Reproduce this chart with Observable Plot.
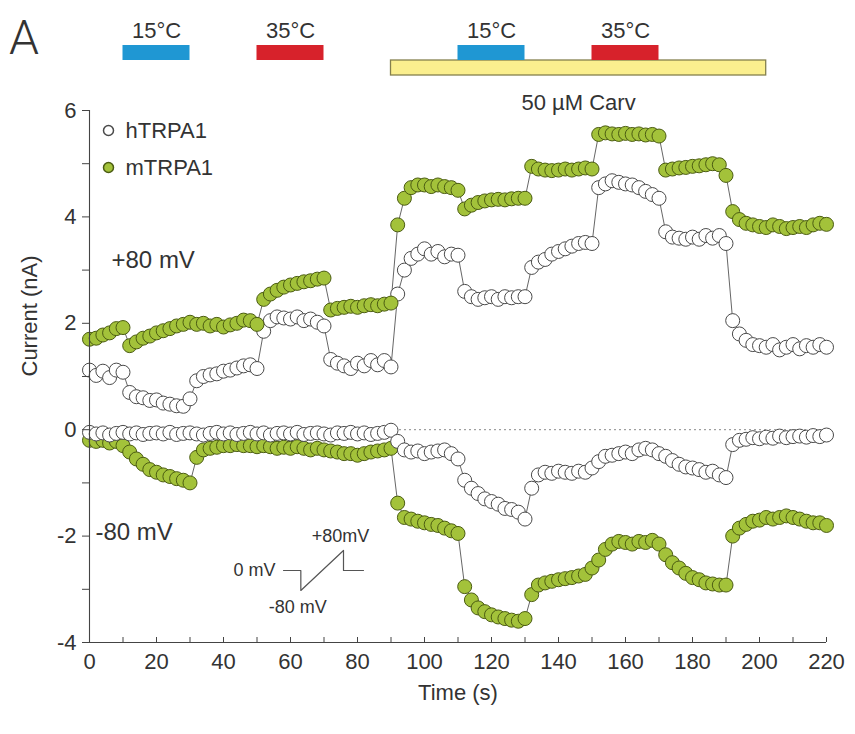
<!DOCTYPE html>
<html><head><meta charset="utf-8">
<script src="https://cdn.jsdelivr.net/npm/d3@7"></script>
<script src="https://cdn.jsdelivr.net/npm/@observablehq/plot@0.6"></script>
<style>
body{margin:0;background:#fff;}
#wrap{position:relative;width:855px;height:734px;overflow:hidden;font-family:"Liberation Sans",Arial,sans-serif;color:#333}
#wrap svg{overflow:visible;display:block}
#inset{position:absolute;left:283px;top:550px}
#panel{position:absolute;left:9px;top:14px;font-family:Roboto,"Liberation Sans",sans-serif;font-weight:300;font-size:48px;line-height:48px;color:#333}
</style></head><body>
<div id="wrap"><div id="stim"></div><div id="main"></div><div id="inset"></div><div id="panel">A</div></div>
<script>
// ---- data ----
const time = [0,2,4,6,8,10,12,14,16,18,20,22,24,26,28,30,32,34,36,38,40,42,44,46,48,50,52,54,56,58,60,62,64,66,68,70,72,74,76,78,80,82,84,86,88,90,92,94,96,98,100,102,104,106,108,110,112,114,116,118,120,122,124,126,128,130,132,134,136,138,140,142,144,146,148,150,152,154,156,158,160,162,164,166,168,170,172,174,176,178,180,182,184,186,188,190,192,194,196,198,200,202,204,206,208,210,212,214,216,218,220];

const hTRPA1_plus80 = [
 1.12,1.02,1.1,0.98,1.12,1.08,0.7,0.62,0.6,0.55,
 0.56,0.5,0.48,0.45,0.44,0.58,0.92,1.0,1.03,1.05,
 1.1,1.12,1.16,1.2,1.22,1.15,1.85,2.05,2.12,2.1,
 2.08,2.12,2.05,2.08,2.02,1.95,1.32,1.25,1.2,1.15,
 1.25,1.2,1.3,1.22,1.3,1.18,2.55,3.0,3.22,3.3,
 3.4,3.3,3.35,3.25,3.3,3.28,2.6,2.5,2.45,2.48,
 2.5,2.45,2.5,2.48,2.5,2.5,3.05,3.15,3.2,3.3,
 3.35,3.4,3.45,3.5,3.52,3.5,4.55,4.62,4.68,4.65,
 4.62,4.6,4.55,4.48,4.42,4.35,3.72,3.62,3.6,3.58,
 3.62,3.58,3.65,3.6,3.65,3.5,2.05,1.8,1.68,1.6,
 1.58,1.55,1.6,1.5,1.55,1.6,1.52,1.58,1.55,1.6,
 1.55];

const mTRPA1_plus80 = [
 1.7,1.72,1.78,1.82,1.9,1.92,1.58,1.65,1.72,1.76,
 1.82,1.86,1.9,1.95,1.98,2.02,1.98,2.0,1.95,1.98,
 1.93,1.97,2.0,2.06,2.05,1.98,2.45,2.55,2.62,2.68,
 2.72,2.75,2.78,2.8,2.83,2.85,2.25,2.28,2.3,2.32,
 2.3,2.33,2.35,2.33,2.36,2.38,3.85,4.35,4.55,4.6,
 4.6,4.57,4.6,4.57,4.55,4.5,4.15,4.22,4.27,4.3,
 4.32,4.33,4.32,4.34,4.35,4.35,4.95,4.9,4.88,4.87,
 4.88,4.9,4.88,4.9,4.92,4.9,5.55,5.58,5.56,5.55,
 5.57,5.55,5.56,5.54,5.55,5.52,4.88,4.9,4.92,4.93,
 4.95,4.96,4.98,5.0,4.98,4.78,4.1,3.95,3.88,3.85,
 3.82,3.8,3.85,3.82,3.78,3.8,3.82,3.8,3.85,3.88,
 3.86];

const hTRPA1_minus80 = [
 -0.05,-0.08,-0.06,-0.1,-0.07,-0.05,-0.08,-0.06,-0.09,-0.07,
 -0.06,-0.08,-0.05,-0.09,-0.07,-0.06,-0.08,-0.1,-0.07,-0.05,
 -0.08,-0.06,-0.09,-0.07,-0.05,-0.08,-0.06,-0.1,-0.07,-0.06,
 -0.08,-0.05,-0.09,-0.07,-0.06,-0.08,-0.1,-0.06,-0.07,-0.05,
 -0.08,-0.06,-0.09,-0.07,-0.05,-0.01,-0.22,-0.38,-0.42,-0.4,
 -0.45,-0.42,-0.4,-0.38,-0.45,-0.55,-0.95,-1.1,-1.2,-1.3,
 -1.35,-1.4,-1.48,-1.5,-1.55,-1.68,-1.1,-0.85,-0.8,-0.82,
 -0.78,-0.8,-0.82,-0.78,-0.8,-0.72,-0.6,-0.5,-0.48,-0.45,
 -0.42,-0.45,-0.38,-0.35,-0.38,-0.45,-0.5,-0.58,-0.65,-0.7,
 -0.72,-0.75,-0.8,-0.78,-0.85,-0.9,-0.28,-0.2,-0.18,-0.15,
 -0.17,-0.14,-0.16,-0.12,-0.15,-0.13,-0.12,-0.14,-0.11,-0.13,
 -0.1];

const mTRPA1_minus80 = [
 -0.2,-0.22,-0.2,-0.25,-0.22,-0.3,-0.42,-0.55,-0.65,-0.75,
 -0.8,-0.85,-0.88,-0.92,-0.95,-1.0,-0.52,-0.38,-0.35,-0.33,
 -0.3,-0.3,-0.28,-0.3,-0.3,-0.32,-0.3,-0.32,-0.35,-0.33,
 -0.35,-0.32,-0.35,-0.38,-0.35,-0.38,-0.4,-0.42,-0.45,-0.45,
 -0.48,-0.45,-0.42,-0.4,-0.38,-0.35,-1.38,-1.65,-1.68,-1.72,
 -1.75,-1.78,-1.8,-1.85,-1.9,-1.95,-2.95,-3.2,-3.35,-3.42,
 -3.48,-3.52,-3.55,-3.58,-3.6,-3.55,-3.1,-2.92,-2.88,-2.85,
 -2.82,-2.8,-2.78,-2.75,-2.72,-2.6,-2.45,-2.25,-2.15,-2.1,
 -2.12,-2.15,-2.1,-2.12,-2.08,-2.15,-2.35,-2.5,-2.6,-2.7,
 -2.78,-2.82,-2.88,-2.9,-2.92,-2.92,-2.0,-1.85,-1.78,-1.72,
 -1.7,-1.65,-1.68,-1.65,-1.62,-1.65,-1.68,-1.72,-1.75,-1.75,
 -1.8];

// stimulus protocol
const tempLabels = ["15°C","35°C","15°C","35°C"];
const tempKinds  = ["cold","hot","cold","hot"];
const tempStart  = [10, 50, 110, 150];
const tempEnd    = [30, 70, 130, 170];
const drugLabel  = "50 µM Carv";
const drugStart  = 90;
const drugEnd    = 202;

// axes
const xTicks = [0,20,40,60,80,100,120,140,160,180,200,220];
const xMinorTicks = [0,10,20,30,40,50,60,70,80,90,100,110,120,130,140,150,160,170,180,190,200,210,220];
const yTicks = [-4,-3,-2,-1,0,1,2,3,4,5,6];
const legendLabels = ["hTRPA1","mTRPA1"];

// voltage-ramp protocol schematic (arbitrary time units, mV)
const protoT = [0, 1.3, 1.3, 4.5, 4.5, 6];
const protoV = [0, 0, -80, 80, 0, 0];

// ---- build tables ----
const rows = (vals, series) => time.map((t, i) => ({t, v: vals[i], series}));
const traces = [
  rows(hTRPA1_plus80, "hTRPA1"),
  rows(mTRPA1_plus80, "mTRPA1"),
  rows(mTRPA1_minus80, "mTRPA1"),
  rows(hTRPA1_minus80, "hTRPA1")
];
const temps = tempLabels.map((label, i) => ({label, kind: tempKinds[i], start: tempStart[i], end: tempEnd[i]}));
const drug = [{label: drugLabel, start: drugStart, end: drugEnd}];
const proto = protoT.map((t, i) => ({t, v: protoV[i]}));

const FONT = "Liberation Sans, Arial, Helvetica, sans-serif";
const TXT = "#333";
const colTemp = {cold: "#1f97d3", hot: "#d7222b"};
const FS = 22;

// ---- stimulus bars ----
const stim = Plot.plot({
  width: 855, height: 110,
  marginLeft: 89, marginRight: 29, marginTop: 45, marginBottom: 35,
  x: {domain: [0, 220], axis: null},
  style: {fontFamily: FONT, fontSize: FS + "px", color: TXT, background: "transparent", overflow: "visible"},
  marks: [
    Plot.rect(drug, {x1: "start", x2: "end", insetTop: 15, fill: "#fbef8e", stroke: "#85804e", strokeWidth: 1.3}),
    Plot.rect(temps, {x1: "start", x2: "end", insetBottom: 15, fill: d => colTemp[d.kind]}),
    Plot.text(temps, {x: d => (d.start + d.end) / 2, text: "label", frameAnchor: "top", lineAnchor: "middle", dy: -15, fill: TXT}),
    Plot.text(drug, {x: d => (d.start + d.end) / 2, text: "label", frameAnchor: "bottom", lineAnchor: "middle", dy: 27, fill: TXT})
  ]
});
document.getElementById("stim").append(stim);

// ---- main chart ----
const all = traces.flat();
const main = Plot.plot({
  width: 855, height: 624,
  marginLeft: 89, marginRight: 29, marginTop: 0, marginBottom: 92,
  x: {domain: [0, 220]},
  y: {domain: [-4, 6]},
  style: {fontFamily: FONT, fontSize: FS + "px", color: TXT, background: "transparent", overflow: "visible"},
  marks: [
    Plot.ruleY([0], {stroke: "#888", strokeDasharray: "2,3", strokeWidth: 1}),
    ...traces.map(tr => Plot.line(tr, {x: "t", y: "v", stroke: "#555", strokeWidth: 0.9})),
    Plot.dot(all, {x: "t", y: "v", r: 7,
      fill: d => d.series === "hTRPA1" ? "#ffffff" : "#a3c23a",
      stroke: d => d.series === "hTRPA1" ? "#4a4a4a" : "#4b5c12", strokeWidth: 1}),
    // axes
    Plot.ruleX([0], {stroke: "#444", strokeWidth: 1.1}),
    Plot.ruleY([-4], {stroke: "#444", strokeWidth: 1.1}),
    Plot.tickX(xMinorTicks, {x: d => d, insetTop: 527, stroke: "#444"}),
    Plot.axisY({ticks: yTicks, tickSize: 7, tickPadding: 6, label: null, stroke: "#444", fill: TXT,
      tickFormat: d => (d % 2 === 0 ? String(d) : "")}),
    Plot.axisX({ticks: xTicks, tickSize: 0, tickPadding: 11, label: null, fill: TXT,
      tickFormat: d => String(d)}),
    Plot.text(["Time (s)"], {frameAnchor: "bottom", lineAnchor: "middle", dy: 50, fill: TXT}),
    Plot.text(["Current (nA)"], {frameAnchor: "left", lineAnchor: "middle", dx: -60, rotate: -90, fill: TXT}),
    // legend
    Plot.dot([legendLabels[0]], {frameAnchor: "top-left", dx: 19, dy: 20, r: 5, fill: "#fff", stroke: "#4a4a4a"}),
    Plot.dot([legendLabels[1]], {frameAnchor: "top-left", dx: 19, dy: 57, r: 5, fill: "#a3c23a", stroke: "#4b5c12"}),
    Plot.text([legendLabels[0]], {frameAnchor: "top-left", lineAnchor: "middle", dx: 36, dy: 20, textAnchor: "start", fill: TXT}),
    Plot.text([legendLabels[1]], {frameAnchor: "top-left", lineAnchor: "middle", dx: 36, dy: 57, textAnchor: "start", fill: TXT}),
    // holding-potential labels
    Plot.text(["+80 mV"], {frameAnchor: "top-left", lineAnchor: "middle", dx: 22, dy: 150, textAnchor: "start", fill: TXT, fontSize: 24}),
    Plot.text(["-80 mV"], {frameAnchor: "top-left", lineAnchor: "middle", dx: 6, dy: 422, textAnchor: "start", fill: TXT, fontSize: 24})
  ]
});
document.getElementById("main").append(main);

// ---- voltage protocol inset ----
const inset = Plot.plot({
  width: 80, height: 40,
  marginLeft: 0, marginRight: 0, marginTop: 0, marginBottom: 0,
  x: {domain: [0, 6], axis: null},
  y: {domain: [-80, 80], axis: null},
  style: {fontFamily: FONT, fontSize: "18px", color: TXT, background: "transparent", overflow: "visible"},
  marks: [
    Plot.line(proto, {x: "t", y: "v", stroke: "#555", strokeWidth: 1.2}),
    Plot.text(["0 mV"], {x: protoT[0], y: protoV[0], dx: -8, textAnchor: "end", fill: TXT}),
    Plot.text(["+80mV"], {x: protoT[3], y: protoV[3], dx: -3, dy: -14, fill: TXT}),
    Plot.text(["-80 mV"], {x: protoT[2], y: protoV[2], dx: -3, dy: 17, fill: TXT})
  ]
});
document.getElementById("inset").append(inset);
</script></body></html>
